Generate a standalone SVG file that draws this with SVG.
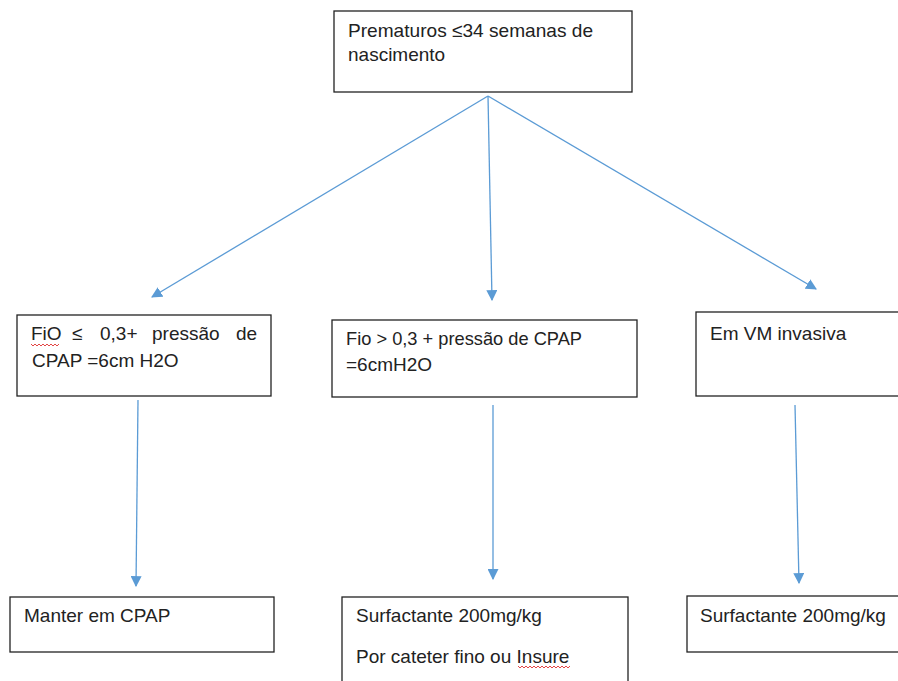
<svg xmlns="http://www.w3.org/2000/svg" width="898" height="681" viewBox="0 0 898 681">
<style>
.box{fill:#fff;stroke:#222;stroke-width:1.3}
.t{font-family:"Liberation Sans",Arial,sans-serif;font-size:19px;fill:#222}
.c{stroke:#5B9BD5;stroke-width:1.3;fill:none}
.sq{stroke:#e03030;stroke-width:0.9;fill:none}
</style>
<defs>
<marker id="ah" viewBox="0 0 10 10" refX="9" refY="5" markerWidth="11" markerHeight="11" markerUnits="userSpaceOnUse" orient="auto">
<path d="M0,0 L10,5 L0,10 z" fill="#5B9BD5"/>
</marker>
</defs>
<rect width="898" height="681" fill="#fff"/>
<g id="connectors">
<line class="c" x1="488" y1="96" x2="152" y2="297" marker-end="url(#ah)"/>
<line class="c" x1="488" y1="96" x2="492" y2="300" marker-end="url(#ah)"/>
<line class="c" x1="488" y1="96" x2="816" y2="289" marker-end="url(#ah)"/>
<line class="c" x1="138" y1="400" x2="136" y2="586" marker-end="url(#ah)"/>
<line class="c" x1="493" y1="405" x2="493" y2="579" marker-end="url(#ah)"/>
<line class="c" x1="795" y1="405" x2="799" y2="583" marker-end="url(#ah)"/>
</g>
<g id="n0">
<rect class="box" x="334" y="11" width="298" height="81"/>
<text class="t" x="348" y="37" textLength="245" lengthAdjust="spacingAndGlyphs">Prematuros ≤34 semanas de</text>
<text class="t" x="348" y="61">nascimento</text>
</g>
<g id="n1">
<rect class="box" x="17" y="315" width="254" height="81"/>
<text class="t" y="340"><tspan x="31">FiO</tspan><tspan x="72">≤</tspan><tspan x="100">0,3+</tspan><tspan x="152">pressão</tspan><tspan x="236">de</tspan></text>
<text class="t" x="32" y="367">CPAP =6cm H2O</text>
<path class="sq" d="M31,344 l2,2 l2,-2 l2,2 l2,-2 l2,2 l2,-2 l2,2 l2,-2 l2,2 l2,-2 l2,2 l2,-2 l2,2 l2,-2"/>
</g>
<g id="n2">
<rect class="box" x="332" y="320" width="305" height="77"/>
<text class="t" x="346" y="345" textLength="236" lengthAdjust="spacingAndGlyphs">Fio &gt; 0,3 + pressão de CPAP</text>
<text class="t" x="346" y="371">=6cmH2O</text>
</g>
<g id="n3">
<rect class="box" x="696" y="312" width="210" height="84"/>
<text class="t" x="710" y="340">Em VM invasiva</text>
</g>
<g id="n4">
<rect class="box" x="10" y="597" width="264" height="55"/>
<text class="t" x="24" y="622">Manter em CPAP</text>
</g>
<g id="n5">
<rect class="box" x="342" y="597" width="286" height="100"/>
<text class="t" x="356" y="622">Surfactante 200mg/kg</text>
<text class="t" x="356" y="663">Por cateter fino ou Insure</text>
<path class="sq" d="M518,666 l2,2 l2,-2 l2,2 l2,-2 l2,2 l2,-2 l2,2 l2,-2 l2,2 l2,-2 l2,2 l2,-2 l2,2 l2,-2 l2,2 l2,-2 l2,2 l2,-2 l2,2 l2,-2 l2,2 l2,-2 l2,2 l2,-2 l2,2 l2,-2"/>
</g>
<g id="n6">
<rect class="box" x="687" y="596" width="220" height="56"/>
<text class="t" x="700" y="622">Surfactante 200mg/kg</text>
</g>
</svg>
